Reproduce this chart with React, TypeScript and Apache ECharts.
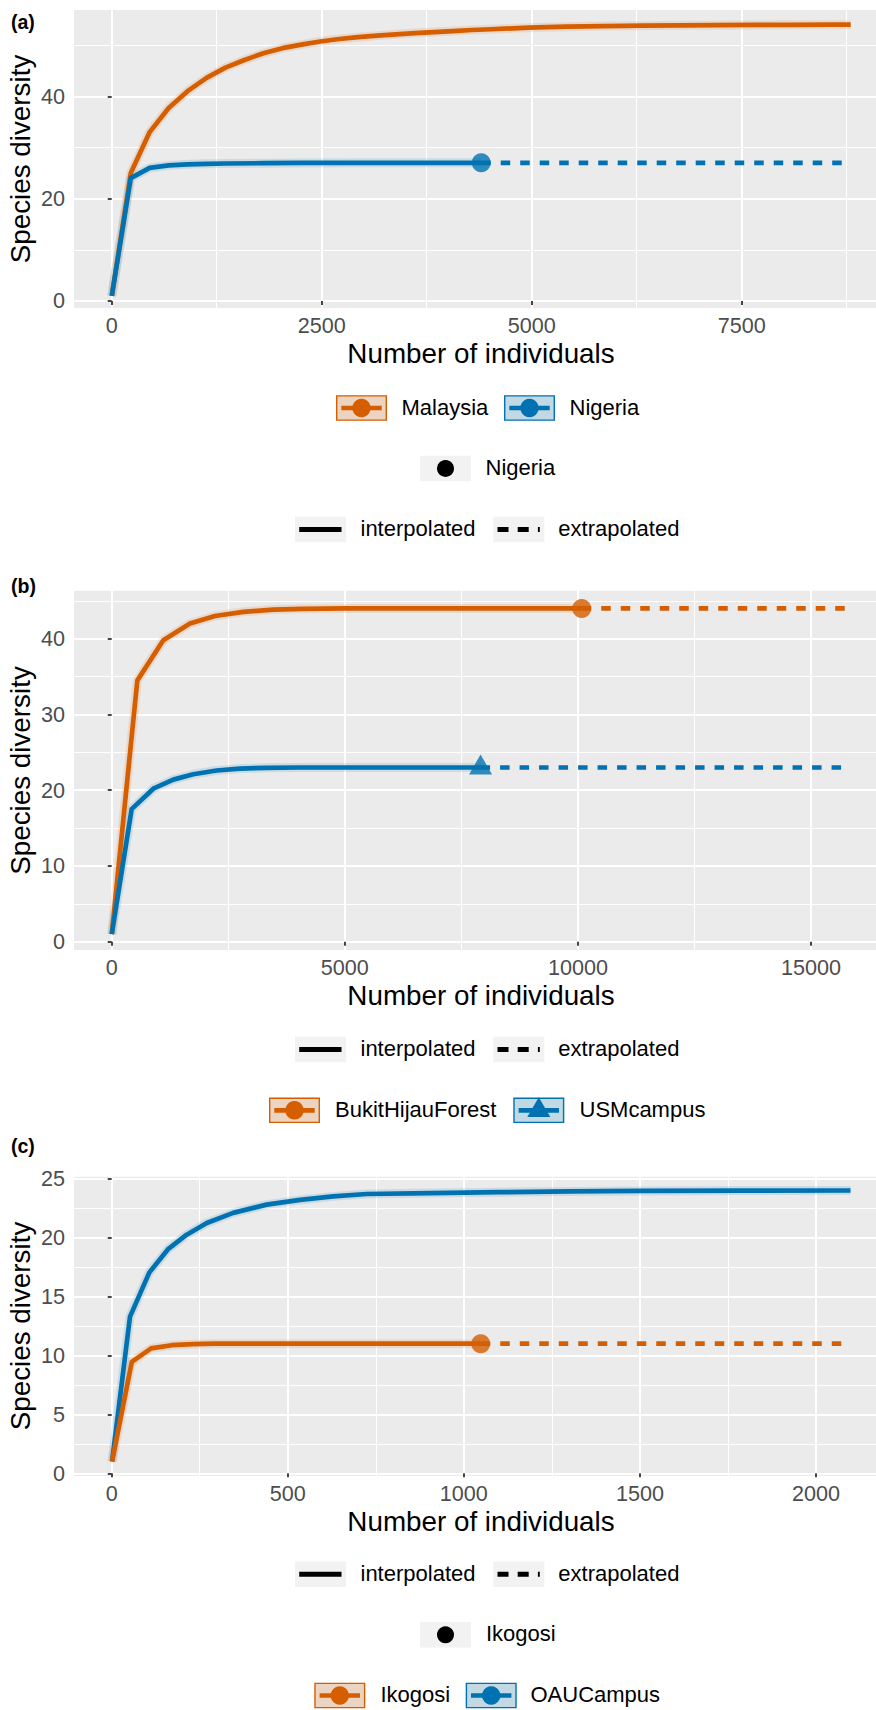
import React, { useEffect, useRef } from "react";
import * as echarts from "echarts";

const ORANGE = "#D55E00";
const BLUE = "#0072B2";
const FONT = "'Liberation Sans', Arial, Helvetica, sans-serif";

// ---------- Panel (a) ----------
const aTicksX = [0, 2500, 5000, 7500];
const aMinorX = [1250, 3750, 6250, 8750];
const aTicksY = [0, 20, 40];
const aMinorY = [10, 30, 50];
const malaysiaX = [1, 227, 452, 678, 903, 1129, 1354, 1580, 1805, 2031, 2257, 2482, 2708, 2933, 3159, 3384, 3610, 3836, 4061, 4287, 4512, 4963, 5415, 5866, 6317, 6768, 7219, 7670, 8121, 8572, 8798];
const malaysiaY = [1, 25.0, 33.0, 37.7, 41.0, 43.6, 45.6, 47.1, 48.4, 49.4, 50.1, 50.7, 51.2, 51.55, 51.85, 52.1, 52.35, 52.55, 52.75, 52.95, 53.1, 53.4, 53.6, 53.72, 53.8, 53.86, 53.9, 53.94, 53.97, 53.99, 54.0];
const nigeriaX = [1, 227, 452, 678, 903, 1129, 1354, 1805, 2257, 2933, 3610, 4399];
const nigeriaY = [1, 24.0, 26.0, 26.5, 26.7, 26.8, 26.87, 26.93, 26.97, 27.0, 27.0, 27.0];
const nigeriaExtX = [4399, 8798];
const nigeriaExtY = [27.0, 27.0];
const nigeriaRef = [4399, 27.0];

// ---------- Panel (b) ----------
const bTicksX = [0, 5000, 10000, 15000];
const bMinorX = [2500, 7500, 12500];
const bTicksY = [0, 10, 20, 30, 40];
const bMinorY = [5, 15, 25, 35, 45];
const bukitX = [1, 550, 1107, 1679, 2216, 2824, 3467, 4100, 5000, 6500, 8000, 10082];
const bukitY = [1, 34.5, 39.8, 42.0, 43.0, 43.55, 43.85, 43.95, 44.0, 44.0, 44.0, 44.0];
const bukitExtX = [10082, 15824];
const bukitExtY = [44.0, 44.0];
const bukitRef = [10082, 44.0];
const usmX = [1, 428, 892, 1321, 1750, 2250, 2750, 3300, 4000, 5000, 6500, 7912];
const usmY = [1, 17.5, 20.2, 21.4, 22.1, 22.6, 22.85, 22.95, 23.0, 23.0, 23.0, 23.0];
const usmExtX = [7912, 15824];
const usmExtY = [23.0, 23.0];
const usmRef = [7912, 23.0];

// ---------- Panel (c) ----------
const cTicksX = [0, 500, 1000, 1500, 2000];
const cMinorX = [250, 750, 1250, 1750];
const cTicksY = [0, 5, 10, 15, 20, 25];
const cMinorY = [2.5, 7.5, 12.5, 17.5, 22.5];
const oauX = [1, 52, 107, 161, 213, 270, 345, 440, 535, 629, 724, 904, 1100, 1300, 1500, 1800, 2098];
const oauY = [1, 13.3, 17.05, 19.05, 20.25, 21.24, 22.1, 22.8, 23.2, 23.5, 23.7, 23.78, 23.86, 23.92, 23.96, 23.99, 24.0];
const ikogosiX = [1, 57, 112, 170, 230, 290, 400, 600, 800, 1048];
const ikogosiY = [1, 9.45, 10.6, 10.87, 10.96, 11.0, 11.0, 11.0, 11.0, 11.0];
const ikogosiExtX = [1048, 2098];
const ikogosiExtY = [11.0, 11.0];
const ikogosiRef = [1048, 11.0];

const panels = [
  { top: 10, height: 298, xMin: -449, xMax: 9099, yMin: -1.37, yMax: 56.86, xT: aTicksX, xM: aMinorX, yT: aTicksY, yM: aMinorY },
  { top: 590.7, height: 359.3, xMin: -809, xMax: 16394, yMin: -1.096, yMax: 46.34, xT: bTicksX, xM: bMinorX, yT: bTicksY, yM: bMinorY },
  { top: 1176.7, height: 299.3, xMin: -107.1, xMax: 2170.4, yMin: -0.229, yMax: 25.17, xT: cTicksX, xM: cMinorX, yT: cTicksY, yM: cMinorY },
];

const zip = (xs: number[], ys: number[]) => xs.map((x, i) => [x, ys[i]]);

function solid(p: number, xs: number[], ys: number[], color: string) {
  return {
    type: "line", xAxisIndex: p * 2, yAxisIndex: p * 2, data: zip(xs, ys),
    showSymbol: false, symbol: "none", silent: true, z: 3,
    lineStyle: { color, width: 4.7, type: "solid", cap: "butt", join: "round" },
  };
}
function halo(p: number, xs: number[], ys: number[], color: string) {
  return {
    type: "line", xAxisIndex: p * 2, yAxisIndex: p * 2, data: zip(xs, ys),
    showSymbol: false, symbol: "none", silent: true, z: 2,
    lineStyle: { color, width: 9, opacity: 0.13, cap: "butt", join: "round" },
  };
}
function dashed(p: number, xs: number[], ys: number[], color: string) {
  return {
    type: "line", xAxisIndex: p * 2, yAxisIndex: p * 2, data: zip(xs, ys),
    showSymbol: false, symbol: "none", silent: true, z: 3,
    lineStyle: { color, width: 4.7, type: [9.5, 10], cap: "butt" },
  };
}
function refPoint(p: number, pt: number[], color: string, tri = false) {
  return {
    type: "scatter", xAxisIndex: p * 2, yAxisIndex: p * 2, data: [pt], silent: true, z: 5,
    symbol: tri ? "triangle" : "circle",
    symbolSize: tri ? [23, 20] : 19,
    symbolOffset: tri ? [0, -3] : [0, 0],
    itemStyle: { color },
  };
}

function grayKey(x: number, cy: number) {
  return { type: "rect", shape: { x, y: cy - 12.8, width: 51, height: 25.6 }, style: { fill: "#F2F2F2" } };
}
function colorKey(x: number, cy: number, color: string, fill: string, tri = false) {
  const els: any[] = [
    grayKey(x, cy),
    { type: "rect", shape: { x: x + 0.7, y: cy - 12.1, width: 49.6, height: 24.2 }, style: { fill, stroke: color, lineWidth: 1.4 } },
    { type: "line", shape: { x1: x + 5.3, y1: cy, x2: x + 45.7, y2: cy }, style: { stroke: color, lineWidth: 4.7 } },
  ];
  if (tri) {
    const cx = x + 25.5;
    els.push({ type: "polygon", shape: { points: [[cx, cy - 13], [cx + 11.5, cy + 6.6], [cx - 11.5, cy + 6.6]] }, style: { fill: color } });
  } else {
    els.push({ type: "circle", shape: { cx: x + 25.5, cy, r: 9.2 }, style: { fill: color } });
  }
  return els;
}
function lineKey(x: number, cy: number, dash: boolean) {
  return [
    grayKey(x, cy),
    {
      type: "line", shape: { x1: x + 4.2, y1: cy, x2: x + 46.5, y2: cy },
      style: { stroke: "#000", lineWidth: 5, lineDash: dash ? [11, 9.2] : null },
    },
  ];
}
function dotKey(x: number, cy: number) {
  return [grayKey(x, cy), { type: "circle", shape: { cx: x + 25.5, cy, r: 8.5 }, style: { fill: "#000" } }];
}
function txt(text: string, x: number, y: number, size = 22, extra: any = {}) {
  return {
    type: "text", x, y,
    style: { text, fontSize: size, fontFamily: FONT, fill: "#000", align: "left", verticalAlign: "middle", ...extra },
  };
}

const ORANGE_FILL = "rgba(213,94,0,0.2)";
const BLUE_FILL = "rgba(0,114,178,0.2)";

function interpRow(cy: number) {
  return [
    ...lineKey(295, cy, false),
    txt("interpolated", 360.5, cy - 1),
    ...lineKey(493.3, cy, true),
    txt("extrapolated", 558.3, cy - 1),
  ];
}

const plainNum = (v: number) => String(v);

export default function App() {
  const ref = useRef<HTMLDivElement>(null);
  useEffect(() => {
    if (!ref.current) return;
    const chart = echarts.init(ref.current, null, { renderer: "svg" });

    const grids = panels.map((p) => ({
      left: 74, right: 0, top: p.top, height: p.height,
      show: true, backgroundColor: "#EBEBEB", borderWidth: 0, containLabel: false, outerBoundsMode: "none",
    }));
    const xAxis: any[] = [];
    const yAxis: any[] = [];
    panels.forEach((p, i) => {
      xAxis.push({
        type: "value", gridIndex: i, min: p.xMin, max: p.xMax, position: "bottom",
        axisLine: { show: false },
        axisTick: { show: true, length: 4, lineStyle: { color: "#333333", width: 1.8 }, customValues: p.xT },
        axisLabel: { customValues: p.xT, formatter: plainNum, fontSize: 21.6, color: "#4D4D4D", margin: 6, fontFamily: FONT },
        splitLine: { show: true, lineStyle: { color: "#FFFFFF", width: 2 } },
      });
      xAxis.push({
        type: "value", gridIndex: i, min: p.xMin, max: p.xMax, position: "top",
        axisLine: { show: false }, axisLabel: { show: false },
        axisTick: { show: false, customValues: p.xM },
        splitLine: { show: true, lineStyle: { color: "#FFFFFF", width: 1 } },
      });
      yAxis.push({
        type: "value", gridIndex: i, min: p.yMin, max: p.yMax, position: "left",
        axisLine: { show: false },
        axisTick: { show: true, length: 4, lineStyle: { color: "#333333", width: 1.8 }, customValues: p.yT },
        axisLabel: { customValues: p.yT, formatter: plainNum, fontSize: 21.6, color: "#4D4D4D", margin: 9, fontFamily: FONT },
        splitLine: { show: true, lineStyle: { color: "#FFFFFF", width: 2 } },
      });
      yAxis.push({
        type: "value", gridIndex: i, min: p.yMin, max: p.yMax, position: "right",
        axisLine: { show: false }, axisLabel: { show: false },
        axisTick: { show: false, customValues: p.yM },
        splitLine: { show: true, lineStyle: { color: "#FFFFFF", width: 1 } },
      });
    });

    const series: any[] = [
      // (a)
      halo(0, malaysiaX, malaysiaY, ORANGE),
      halo(0, nigeriaX, nigeriaY, BLUE),
      solid(0, malaysiaX, malaysiaY, ORANGE),
      solid(0, nigeriaX, nigeriaY, BLUE),
      dashed(0, nigeriaExtX, nigeriaExtY, BLUE),
      refPoint(0, nigeriaRef, BLUE),
      // (b)
      halo(1, bukitX, bukitY, ORANGE),
      halo(1, usmX, usmY, BLUE),
      solid(1, bukitX, bukitY, ORANGE),
      dashed(1, bukitExtX, bukitExtY, ORANGE),
      refPoint(1, bukitRef, ORANGE),
      solid(1, usmX, usmY, BLUE),
      dashed(1, usmExtX, usmExtY, BLUE),
      refPoint(1, usmRef, BLUE, true),
      // (c)
      halo(2, oauX, oauY, BLUE),
      halo(2, ikogosiX, ikogosiY, ORANGE),
      solid(2, oauX, oauY, BLUE),
      solid(2, ikogosiX, ikogosiY, ORANGE),
      dashed(2, ikogosiExtX, ikogosiExtY, ORANGE),
      refPoint(2, ikogosiRef, ORANGE),
    ];

    const yTitle = (cy: number) => ({
      type: "text", x: 20.5, y: cy, rotation: Math.PI / 2,
      style: { text: "Species diversity", fontSize: 27.8, fontFamily: FONT, fill: "#000", align: "center", verticalAlign: "middle" },
    });
    const xTitle = (cy: number) => ({
      type: "text", x: 481, y: cy,
      style: { text: "Number of individuals", fontSize: 27.8, fontFamily: FONT, fill: "#000", align: "center", verticalAlign: "middle" },
    });

    const elements: any[] = [
      txt("(a)", 11, 21.7, 19.5, { fontWeight: "bold" }),
      txt("(b)", 11, 586, 19.5, { fontWeight: "bold" }),
      txt("(c)", 11, 1146, 19.5, { fontWeight: "bold" }),
      yTitle(159), yTitle(770.5), yTitle(1326),
      xTitle(353.5), xTitle(995), xTitle(1521),
      // (a) legends
      ...colorKey(336, 408, ORANGE, ORANGE_FILL),
      txt("Malaysia", 401.5, 407),
      ...colorKey(504, 408, BLUE, BLUE_FILL),
      txt("Nigeria", 569.5, 407),
      ...dotKey(420, 468.5),
      txt("Nigeria", 485.5, 467.5),
      ...interpRow(529.5),
      // (b) legends
      ...interpRow(1049.5),
      ...colorKey(269, 1110.3, ORANGE, ORANGE_FILL),
      txt("BukitHijauForest", 335, 1109.3),
      ...colorKey(513.3, 1110.3, BLUE, BLUE_FILL, true),
      txt("USMcampus", 579.5, 1109.3),
      // (c) legends
      ...interpRow(1574.2),
      ...dotKey(420, 1634.8),
      txt("Ikogosi", 486, 1633.8),
      ...colorKey(314.3, 1695.5, ORANGE, ORANGE_FILL),
      txt("Ikogosi", 380.5, 1694.5),
      ...colorKey(465.7, 1695.5, BLUE, BLUE_FILL),
      txt("OAUCampus", 530.5, 1694.5),
    ];

    chart.setOption({
      animation: false,
      backgroundColor: "#FFFFFF",
      textStyle: { fontFamily: FONT },
      grid: grids,
      xAxis,
      yAxis,
      series,
      graphic: { elements },
    });
    return () => chart.dispose();
  }, []);

  return (
    <div
      ref={ref}
      style={{ position: "absolute", left: 0, top: 0, width: 876, height: 1710, background: "#fff" }}
    />
  );
}
